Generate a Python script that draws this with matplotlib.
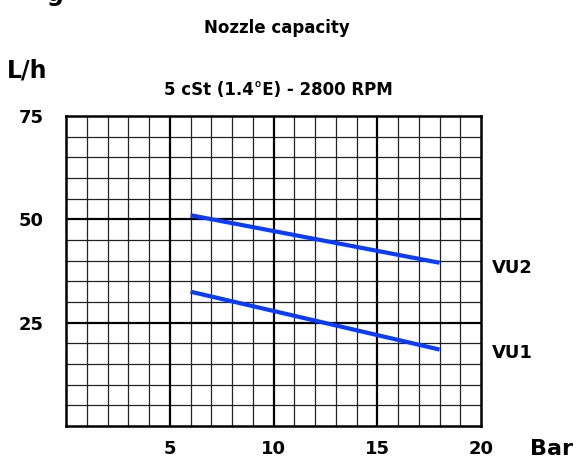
import matplotlib
matplotlib.use("Agg")
import matplotlib.pyplot as plt
import numpy as np

plt.rcParams['font.family'] = ['DejaVu Sans']
plt.rcParams['font.weight'] = 'bold'

# data
pressure = [6, 18]
vu2 = [51.0, 39.5]
vu1 = [32.5, 18.5]
x_ticks = [5, 10, 15, 20]
y_ticks = [25, 50, 75]

W, H = 580, 463
fig = plt.figure(figsize=(W / 100, H / 100), dpi=100)
ax = fig.add_axes([66 / W, 1 - 426 / H, (481 - 66) / W, (426 - 116) / H])

ax.set_xlim(0, 20)
ax.set_ylim(0, 75)

# minor grid
for x in np.arange(1, 20):
    if x % 5:
        ax.axvline(x, color='#222222', lw=0.9, zorder=1)
for y in np.arange(5, 75, 5):
    if y % 25:
        ax.axhline(y, color='#222222', lw=0.9, zorder=1)
# major grid
for x in [5, 10, 15]:
    ax.axvline(x, color='black', lw=1.6, zorder=1)
for y in [25, 50]:
    ax.axhline(y, color='black', lw=1.6, zorder=1)

for s in ax.spines.values():
    s.set_linewidth(1.8)
    s.set_color('black')

ax.plot(pressure, vu2, color='#0a3cff', lw=3, solid_capstyle='butt', zorder=3)
ax.plot(pressure, vu1, color='#0a3cff', lw=3, solid_capstyle='butt', zorder=3)

ax.set_xticks(x_ticks)
ax.set_yticks(y_ticks)
ax.set_xticklabels([str(v) for v in x_ticks], fontsize=13, fontweight='bold')
ax.set_yticklabels([str(v) for v in y_ticks], fontsize=13, fontweight='bold')
ax.tick_params(axis='both', length=0)
ax.tick_params(axis='y', pad=16)
ax.tick_params(axis='x', pad=10)

def px(x, y):
    return x / W, 1 - y / H

fig.text(*px(277, 28), 'Nozzle capacity', ha='center', va='center', fontsize=12, fontweight='bold')
fig.text(*px(278, 90), '5 cSt (1.4°E) - 2800 RPM', ha='center', va='center', fontsize=12, fontweight='bold')
fig.text(*px(27, 71), 'L/h', ha='center', va='center', fontsize=17, fontweight='bold')
fig.text(*px(552, 449), 'Bar', ha='center', va='center', fontsize=16, fontweight='bold')
fig.text(*px(492, 268), 'VU2', ha='left', va='center', fontsize=13, fontweight='bold')
fig.text(*px(492, 353), 'VU1', ha='left', va='center', fontsize=13, fontweight='bold')
fig.text(*px(55, -6), 'g', ha='center', va='center', fontsize=17, fontweight='bold')

fig.savefig('out.png', dpi=100)
